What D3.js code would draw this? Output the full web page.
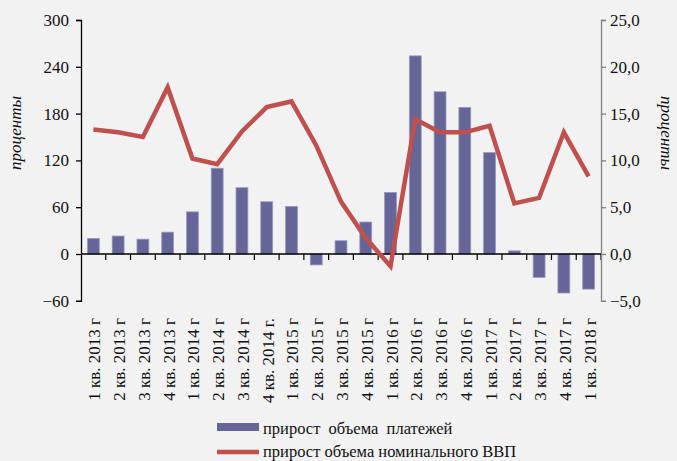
<!DOCTYPE html>
<html>
<head>
<meta charset="utf-8">
<script src="https://cdn.jsdelivr.net/npm/d3@7"></script>
<style>
  body { margin: 0; background: #f2f2f2; }
  svg { display: block; font-family: "Liberation Serif", "Times New Roman", serif; }
</style>
</head>
<body>
<div id="chart"></div>
<script>
const quarters = ["1 кв. 2013 г", "2 кв. 2013 г", "3 кв. 2013 г", "4 кв. 2013 г",
  "1 кв. 2014 г", "2 кв. 2014 г", "3 кв. 2014 г", "4 кв. 2014 г.",
  "1 кв. 2015 г", "2 кв. 2015 г", "3 кв. 2015 г", "4 кв. 2015 г",
  "1 кв. 2016 г", "2 кв. 2016 г", "3 кв. 2016 г", "4 кв. 2016 г",
  "1 кв. 2017 г", "2 кв. 2017 г", "3 кв. 2017 г", "4 кв. 2017 г", "1 кв. 2018 г"];
const payments = [20, 23, 19, 28, 54, 110, 85, 67, 61, -14, 17, 41, 79, 254, 208, 188, 130, 4, -30, -50, -45];
const gdp = [13.3, 13.0, 12.5, 17.8, 10.2, 9.6, 13.1, 15.7, 16.3, 11.6, 5.6, 1.7, -1.3, 14.4, 13.0, 13.0, 13.7, 5.4, 6.0, 13.0, 8.3];
const leftTicks = [-60, 0, 60, 120, 180, 240, 300];
const rightTicks = [-5, 0, 5, 10, 15, 20, 25];

const W = 677, H = 461;
const svg = d3.select("#chart").append("svg")
  .attr("width", W)
  .attr("height", H);

svg.append("rect").attr("width", W).attr("height", H).attr("fill", "#f2f2f2");

const x = d3.scaleBand().domain(quarters).range([81, 601]).paddingInner(0).paddingOuter(0);
const yL = d3.scaleLinear().domain([-60, 300]).range([300.8, 20]);
const yR = d3.scaleLinear().domain([-5, 25]).range([300.8, 20]);

// bars
svg.selectAll("rect.bar")
  .data(payments)
  .enter().append("rect")
  .attr("class", "bar")
  .attr("x", (d, i) => x(quarters[i]) + x.bandwidth() * 0.26)
  .attr("width", x.bandwidth() * 0.48)
  .attr("y", d => Math.min(yL(d), yL(0)))
  .attr("height", d => Math.abs(yL(d) - yL(0)))
  .attr("fill", "#656598")
  .attr("stroke", "#9a9ac0")
  .attr("stroke-width", 0.8);

// zero line with category ticks
svg.append("line")
  .attr("x1", 81).attr("x2", 601)
  .attr("y1", yL(0)).attr("y2", yL(0))
  .attr("stroke", "#000").attr("stroke-width", 1.3);
svg.selectAll("line.cat")
  .data(quarters.slice(1).concat(["end"]))
  .enter().append("line")
  .attr("class", "cat")
  .attr("x1", (d, i) => 81 + (i + 1) * x.bandwidth())
  .attr("x2", (d, i) => 81 + (i + 1) * x.bandwidth())
  .attr("y1", yL(0)).attr("y2", yL(0) + 6)
  .attr("stroke", "#000").attr("stroke-width", 1.2);

// left axis
const axL = svg.append("g")
  .attr("transform", "translate(81,0)")
  .call(d3.axisLeft(yL).tickValues(leftTicks).tickSize(5).tickPadding(7));
axL.select(".domain").attr("stroke", "#000").attr("stroke-width", 1.3);
axL.selectAll(".tick line").attr("stroke", "#000").attr("stroke-width", 1.3);
axL.selectAll(".tick text").attr("font-size", 17).attr("fill", "#111")
  .attr("font-family", "Liberation Serif");

// right axis
const axR = svg.append("g")
  .attr("transform", "translate(601,0)")
  .call(d3.axisRight(yR).tickValues(rightTicks).tickSize(5).tickPadding(4)
    .tickFormat(d => d3.format(".1f")(d).replace(".", ",")));
axR.select(".domain").attr("stroke", "#808080").attr("stroke-width", 1.3);
axR.selectAll(".tick line").attr("stroke", "#808080").attr("stroke-width", 1.3);
axR.selectAll(".tick text").attr("font-size", 17).attr("fill", "#111")
  .attr("font-family", "Liberation Serif");

// gdp line
const line = d3.line()
  .x((d, i) => x(quarters[i]) + x.bandwidth() / 2)
  .y(d => yR(d));
svg.append("path")
  .datum(gdp)
  .attr("d", line)
  .attr("fill", "none")
  .attr("stroke", "#c0504d")
  .attr("stroke-width", 4.5)
  .attr("stroke-linejoin", "miter");

// category labels
svg.selectAll("text.cat")
  .data(quarters)
  .enter().append("text")
  .attr("class", "cat")
  .attr("transform", d => `translate(${x(d) + x.bandwidth() / 2 + 7},318) rotate(-90)`)
  .attr("text-anchor", "end")
  .attr("font-size", 17)
  .attr("fill", "#111")
  .text(d => d);

// axis titles
svg.append("text")
  .attr("transform", "translate(21,133) rotate(-90)")
  .attr("text-anchor", "middle")
  .attr("font-size", 17)
  .attr("font-style", "italic")
  .attr("fill", "#111")
  .text("проценты");
svg.append("text")
  .attr("transform", "translate(661,133) rotate(90)")
  .attr("text-anchor", "middle")
  .attr("font-size", 17)
  .attr("font-style", "italic")
  .attr("fill", "#111")
  .text("проценты");

// legend
const legend = svg.append("g");
legend.append("rect")
  .attr("x", 217).attr("y", 423).attr("width", 42).attr("height", 8)
  .attr("fill", "#656598");
legend.append("text")
  .attr("x", 263).attr("y", 434)
  .attr("font-size", 16.5).attr("fill", "#111")
  .attr("xml:space", "preserve")
  .text("прирост  объема  платежей");
legend.append("line")
  .attr("x1", 217).attr("x2", 259).attr("y1", 452).attr("y2", 452)
  .attr("stroke", "#c0504d").attr("stroke-width", 4.5);
legend.append("text")
  .attr("x", 263).attr("y", 456.5)
  .attr("font-size", 16.5).attr("fill", "#111")
  .text("прирост объема номинального ВВП");
</script>
</body>
</html>
